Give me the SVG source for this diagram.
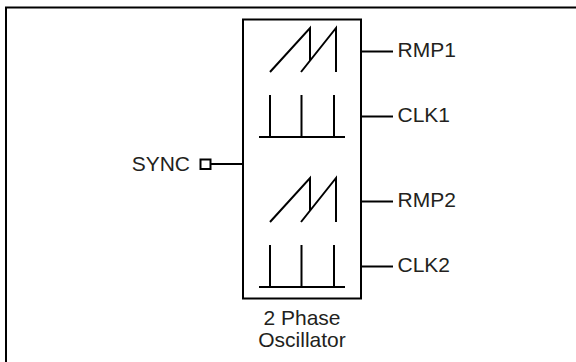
<svg xmlns="http://www.w3.org/2000/svg" width="576" height="362" viewBox="0 0 576 362">
<style>
.ln{fill:none;stroke:#000;stroke-width:2}
.tx{font-family:"Liberation Sans",Arial,sans-serif;font-size:21px;fill:#231f20}
</style>
<rect width="576" height="362" fill="#fff"/>
<path class="ln" d="M6,380 V7.5 H580" stroke-width="2.5"/>
<g id="oscillator">
<rect class="ln" x="243" y="19.5" width="118" height="279"/>
<path class="ln" d="M270,72 L310,28 L310,61 M301,72 L336,28 L336,72"/>
<path class="ln" d="M270,95 V137 M301.5,95 V137 M334,95 V137 M259,137 H345"/>
<path class="ln" d="M270,222 L310,178 L310,211 M301,222 L336,178 L336,222"/>
<path class="ln" d="M270,245 V287 M301.5,245 V287 M334,245 V287 M259,287 H345"/>
<text class="tx" x="302" y="325" text-anchor="middle">2 Phase</text>
<text class="tx" x="302" y="346.5" text-anchor="middle">Oscillator</text>
</g>
<g id="sync">
<rect class="ln" x="200.5" y="159.5" width="10" height="9.5"/>
<text class="tx" x="190" y="171" text-anchor="end">SYNC</text>
</g>
<g id="rmp1"><text class="tx" x="397.5" y="57">RMP1</text></g>
<g id="clk1"><text class="tx" x="397.5" y="122">CLK1</text></g>
<g id="rmp2"><text class="tx" x="397.5" y="207">RMP2</text></g>
<g id="clk2"><text class="tx" x="397.5" y="272">CLK2</text></g>
<g id="connectors">
<path class="ln" d="M210.5,164 H243"/>
<path class="ln" d="M361,51.5 H393"/>
<path class="ln" d="M361,116.5 H393"/>
<path class="ln" d="M361,201.5 H393"/>
<path class="ln" d="M361,266.5 H393"/>
</g>
</svg>
